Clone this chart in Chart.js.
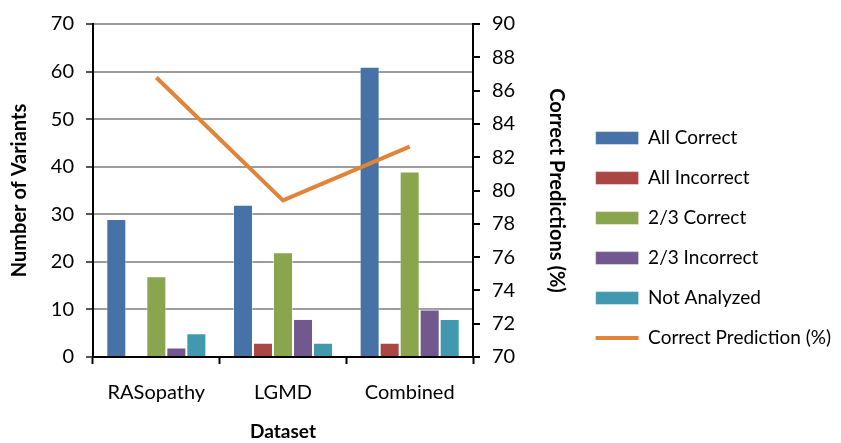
<!DOCTYPE html>
<html>
<head>
<meta charset="utf-8">
<script src="https://cdn.jsdelivr.net/npm/chart.js@4/dist/chart.umd.min.js"></script>
<style>
  html, body { margin: 0; padding: 0; background: #fff; }
  #wrap { width: 841px; height: 443px; }
</style>
</head>
<body>
<div id="wrap"><canvas id="chart"></canvas></div>
<script>
// Variant counts per dataset and the share of correct predictions
const categories = ['RASopathy', 'LGMD', 'Combined'];
const allCorrect = [29, 32, 61];
const allIncorrect = [0, 3, 3];
const twoThirdsCorrect = [17, 22, 39];
const twoThirdsIncorrect = [2, 8, 10];
const notAnalyzed = [5, 3, 8];
const correctPredictionPct = [86.79, 79.41, 82.64];

const FONT = 'Lato, "Liberation Sans", sans-serif';

function barSet(label, data, color) {
  return {
    type: 'bar', label, data,
    backgroundColor: color,
    borderColor: 'rgba(255,255,255,0.45)',
    borderWidth: 1,
    categoryPercentage: 0.79,
    barPercentage: 1.0,
    yAxisID: 'y', order: 1, pointStyle: 'rect'
  };
}

// Let the right-hand legend take the width its labels need instead of the
// default share of the canvas given to vertical layout boxes.
const wideLegend = {
  id: 'wideLegend',
  afterInit(chart) {
    const lg = chart.legend;
    if (!lg || lg._wide) return;
    const fit = lg.fit.bind(lg);
    lg.fit = function () { this.maxWidth = 400; fit(); };
    lg._wide = true;
  }
};

new Chart(document.getElementById('chart'), {
  plugins: [wideLegend],
  data: {
    labels: categories,
    datasets: [
      barSet('All Correct', allCorrect, '#4672A8'),
      barSet('All Incorrect', allIncorrect, '#AA4644'),
      barSet('2/3 Correct', twoThirdsCorrect, '#89A54E'),
      barSet('2/3 Incorrect', twoThirdsIncorrect, '#71588F'),
      barSet('Not Analyzed', notAnalyzed, '#4298AF'),
      {
        type: 'line', label: 'Correct Prediction (%)', data: correctPredictionPct,
        borderColor: '#E0843A', backgroundColor: '#E0843A', borderWidth: 4,
        pointRadius: 0, pointHoverRadius: 0, tension: 0,
        yAxisID: 'y1', order: 0, pointStyle: 'line'
      }
    ]
  },
  options: {
    responsive: true,
    maintainAspectRatio: false,
    animation: false,
    layout: { padding: { top: 24, right: 0, bottom: 0, left: 0 } },
    plugins: {
      tooltip: { enabled: false },
      legend: {
        position: 'right',
        align: 'center',
        title: { display: true, text: '', padding: 4, font: { size: 1 } },
        labels: {
          usePointStyle: true,
          pointStyleWidth: 43,
          boxHeight: 13,
          padding: 21,
          color: '#000',
          font: { family: FONT, size: 19 },
          sort: (a, b) => a.datasetIndex - b.datasetIndex
        }
      }
    },
    scales: {
      x: {
        offset: true,
        grid: { display: true, drawOnChartArea: false, offset: true, tickLength: 7, tickColor: '#000', tickWidth: 2 },
        border: { display: true, color: '#000', width: 2 },
        ticks: { color: '#000', font: { family: FONT, size: 20 }, padding: 17 },
        title: { display: true, text: 'Dataset', color: '#000', font: { family: FONT, size: 19, weight: 'bold' }, padding: { top: 8, bottom: 0 } },
        afterFit: (s) => { s.height = 86; }
      },
      y: {
        position: 'left',
        min: 0, max: 70,
        ticks: { stepSize: 10, color: '#000', font: { family: FONT, size: 20 }, padding: 12 },
        grid: { color: '#9c9c9c', lineWidth: 2, tickLength: 7, tickColor: '#555' },
        border: { display: true, color: '#000', width: 2 },
        title: { display: true, text: 'Number of Variants', color: '#000', font: { family: FONT, size: 20, weight: 'bold' }, padding: { top: 8, bottom: 4 } },
        afterFit: (s) => { s.width = 93; }
      },
      y1: {
        position: 'right',
        min: 70, max: 90,
        ticks: { stepSize: 2, color: '#000', font: { family: FONT, size: 20 }, padding: 12 },
        grid: { drawOnChartArea: false, color: '#000', lineWidth: 2, tickLength: 7 },
        border: { display: true, color: '#000', width: 2 },
        title: { display: true, text: 'Correct Predictions (%)', color: '#000', font: { family: FONT, size: 20, weight: 'bold' }, padding: { top: 6, bottom: 0 } },
        afterFit: (s) => {
          const lg = s.chart.legend;
          s.width = Math.max(60, 841 - (lg ? lg.width : 260) - 473);
        }
      }
    }
  }
});
</script>
</body>
</html>
